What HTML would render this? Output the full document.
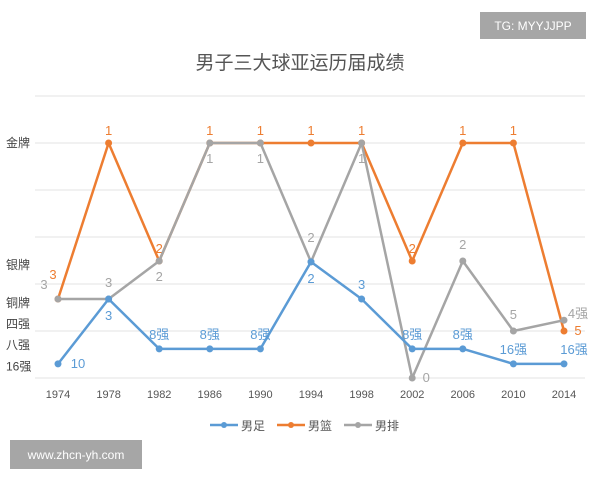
<!DOCTYPE html>
<html><head><meta charset="utf-8"><style>
body{margin:0;width:600px;height:480px;background:#fff;overflow:hidden;font-family:"Liberation Sans","Noto Sans CJK SC",sans-serif;}
</style></head><body>
<svg width="600" height="480" xmlns="http://www.w3.org/2000/svg">
<rect x="480" y="12" width="106" height="27" fill="#a6a6a6"/>
<text x="533" y="30" font-size="12" fill="#fff" text-anchor="middle" font-family="Liberation Sans,sans-serif">TG: MYYJJPP</text>
<text x="300" y="69" font-size="19" fill="#555" text-anchor="middle" font-family="Liberation Sans,Noto Sans CJK SC,sans-serif">男子三大球亚运历届成绩</text>
<g id="grid"></g>
<g id="ylabels" font-size="12" fill="#444" font-family="Liberation Sans,Noto Sans CJK SC,sans-serif"></g>
<g id="xlabels" font-size="11" fill="#555"></g>
<g id="series"></g>
<g id="legend" font-size="12" fill="#555" font-family="Liberation Sans,Noto Sans CJK SC,sans-serif"></g>
<rect x="10" y="440" width="132" height="29" fill="#a6a6a6"/>
<text x="76" y="459" font-size="12" fill="#fff" text-anchor="middle" font-family="Liberation Sans,sans-serif">www.zhcn-yh.com</text>
</svg>
<script>
const years=["1974","1978","1982","1986","1990","1994","1998","2002","2006","2010","2014"];
const football=[0.3,1.68,0.62,0.62,0.62,2.47,1.68,0.62,0.62,0.3,0.3];
const basketball=[1.68,5,2.49,5,5,5,5,2.49,5,5,1.0];
const volleyball=[1.68,1.68,2.49,5,5,2.47,5,0,2.49,1.0,1.23];
const footballLabels=["10","3","8强","8强","8强","2","3","8强","8强","16强","16强"];
const basketballLabels=["3","1","2","1","1","1","1","2","1","1","5"];
const volleyballLabels=["3","3","2","1","1","2","1","0","2","5","4强"];
const yTickValues=[5,2.4,1.6,1.15,0.7,0.25];
const yTickLabels=["金牌","银牌","铜牌","四强","八强","16强"];
const gridValues=[0,1,2,3,4,5,6];
const seriesNames=["男足","男篮","男排"];
const NS="http://www.w3.org/2000/svg";
const X=i=>58+i*50.6;
const Y=v=>378-v*47;
function mk(t,a,p){const e=document.createElementNS(NS,t);for(const k in a)e.setAttribute(k,a[k]);p.appendChild(e);return e;}
const grid=document.getElementById('grid');
gridValues.forEach(v=>{const l=mk('line',{x1:35,x2:585,y1:Y(v),y2:Y(v),stroke:'#e3e3e3','stroke-width':1},grid);

});
const yl=document.getElementById('ylabels');
yTickValues.forEach((v,i)=>{const t=mk('text',{x:6,y:Y(v)+4},yl);t.textContent=yTickLabels[i];

});
const xl=document.getElementById('xlabels');
years.forEach((y,i)=>{const t=mk('text',{x:X(i),y:398,'text-anchor':'middle'},xl);t.textContent=y;

});
const sg=document.getElementById('series');
function draw(vals,labs,color,name,dx,dy){
  const g=mk('g',{},sg);
  
  
  mk('polyline',{points:vals.map((v,i)=>X(i)+','+Y(v)).join(' '),fill:'none',stroke:color,'stroke-width':2.5,'stroke-linejoin':'round'},g);
  vals.forEach((v,i)=>{const c=mk('circle',{cx:X(i),cy:Y(v),r:3.5,fill:color},g);
  
  
  const t=mk('text',{x:X(i)+dx(i,v),y:Y(v)+dy(i,v),'text-anchor':'middle','font-size':13,fill:color,'font-family':'Liberation Sans,Noto Sans CJK SC,sans-serif'},g);t.textContent=labs[i];
  
  });
}
draw(basketball,basketballLabels,'#ed7d31','orange-basketball-series',(i)=>i==0?-5:(i==10?14:0),(i)=>i==0?-20:(i==10?4:-8));
draw(volleyball,volleyballLabels,'#a5a5a5','volleyball-series',(i)=>i==0?-14:(i==7?14:(i==10?14:0)),(i,v)=>{if(i==0)return -10;if(i==7)return 4;if(i==1||i==8||i==9)return -12;if(i==10)return -2;if(i==5)return -20;return 20;});
draw(football,footballLabels,'#5b9bd5','football-series',(i)=>i==0?20:(i==10?10:0),(i)=>{if(i==0)return 4;if(i==1||i==5)return 21;return -10;});
const lg=document.getElementById('legend');
const colors=['#5b9bd5','#ed7d31','#a5a5a5'];
seriesNames.forEach((n,i)=>{const x=210+i*67;const g=mk('g',{},lg);


mk('line',{x1:x,x2:x+28,y1:425,y2:425,stroke:colors[i],'stroke-width':2.5},g);
mk('circle',{cx:x+14,cy:425,r:3,fill:colors[i]},g);
const t=mk('text',{x:x+31,y:430},g);t.textContent=n;});
</script>
</body></html>
